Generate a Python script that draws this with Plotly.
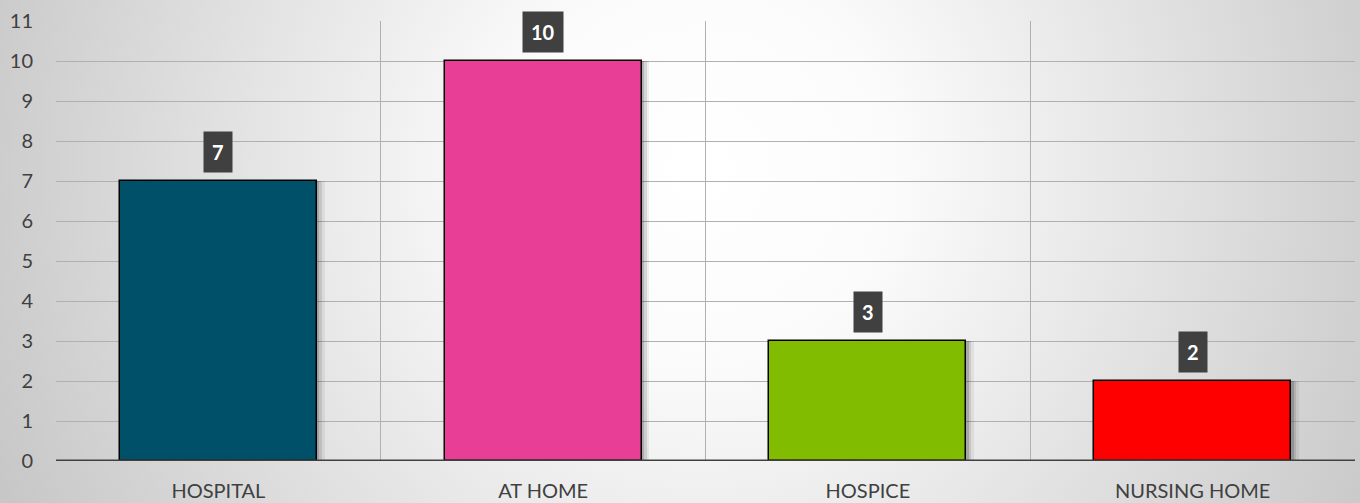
import base64
import plotly.graph_objects as go

categories = ["HOSPITAL", "AT HOME", "HOSPICE", "NURSING HOME"]
values = [7, 10, 3, 2]
bar_colors = ["#01506A", "#E83E96", "#82BC00", "#FF0000"]
y_ticks = list(range(0, 12))

W, H = 1360, 503
L, R, T, B = 56, 5, 21, 42

svg = f'''<svg xmlns="http://www.w3.org/2000/svg" width="{W}" height="{H}">
<defs><radialGradient id="g" gradientUnits="userSpaceOnUse" cx="700" cy="170" r="780">
<stop offset="0" stop-color="#ffffff"/><stop offset="0.25" stop-color="#fbfbfb"/>
<stop offset="1" stop-color="#c6c6c6"/></radialGradient></defs>
<rect width="{W}" height="{H}" fill="url(#g)"/></svg>'''
src = "data:image/svg+xml;base64," + base64.b64encode(svg.encode()).decode()

pw, ph = W - L - R, H - T - B
bw = 0.606

fig = go.Figure()
for dx, op in [(0.024, 0.06), (0.016, 0.10), (0.008, 0.16)]:
    fig.add_trace(go.Bar(
        x=categories, y=values, width=bw, offset=-bw / 2 + dx,
        marker=dict(color=f"rgba(0,0,0,{op})", line=dict(width=0)),
        hoverinfo="skip", showlegend=False))
fig.add_trace(go.Bar(
    x=categories, y=values, width=bw, offset=-bw / 2,
    marker=dict(color=bar_colors, line=dict(color="#000000", width=1.5)),
    showlegend=False))

for c, v in zip(categories, values):
    fig.add_annotation(x=c, y=v, text=f"<b>{v}</b>", showarrow=False,
                       yanchor="bottom", yshift=8, bgcolor="#404040",
                       borderpad=8, font=dict(color="white", size=20, family="Lato"))

fig.add_layout_image(dict(source=src, xref="paper", yref="paper",
                          x=-L / pw, y=1 + T / ph, sizex=W / pw, sizey=H / ph,
                          xanchor="left", yanchor="top", sizing="stretch",
                          layer="below"))

fig.update_layout(
    width=W, height=H, margin=dict(l=L, r=R, t=T, b=B, autoexpand=False),
    paper_bgcolor="rgba(0,0,0,0)", plot_bgcolor="rgba(0,0,0,0)",
    barmode="overlay", bargap=0,
    font=dict(family="Lato", size=20, color="#404040"),
    xaxis=dict(type="category", tickson="boundaries", showgrid=True,
               gridcolor="#b0b0b0", gridwidth=1, ticks="", showline=False,
               zeroline=False, ticklabelstandoff=16, range=[-0.5, 3.5],
               tickfont=dict(size=20, color="#404040")),
    yaxis=dict(range=[0, 11], tickvals=y_ticks, showgrid=True,
               gridcolor="#b0b0b0", gridwidth=1, zeroline=False,
               showline=False, ticks="", ticklabelstandoff=22,
               tickfont=dict(size=20, color="#404040")),
)
fig.add_shape(type="line", xref="paper", yref="y", x0=0, x1=1, y0=0, y1=0,
              line=dict(color="#404040", width=3))

fig.write_html("out.html", config={"displayModeBar": False},
               post_script="document.body.style.margin='0';document.body.style.overflow='hidden';")
